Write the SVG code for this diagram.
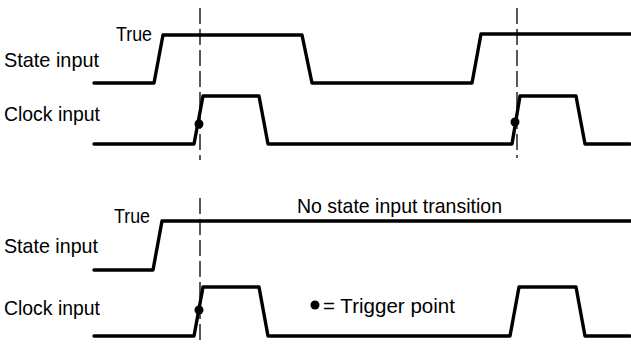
<svg xmlns="http://www.w3.org/2000/svg" width="631" height="345" viewBox="0 0 631 345">
<style>
.sig{fill:none;stroke:#000;stroke-width:3.4;stroke-linejoin:round;stroke-linecap:round}
.dash{fill:none;stroke:#000;stroke-width:1.3;stroke-dasharray:16 5}
.lbl{font-family:"Liberation Sans",Arial,sans-serif;font-size:21px;fill:#000}
.dot{fill:#000}
</style>
<rect width="631" height="345" fill="#fff"/>
<g id="labels">
<text class="lbl" x="116" y="41" textLength="36" lengthAdjust="spacingAndGlyphs">True</text>
<text class="lbl" x="4" y="67" textLength="95" lengthAdjust="spacingAndGlyphs">State input</text>
<text class="lbl" x="4" y="121" textLength="96" lengthAdjust="spacingAndGlyphs">Clock input</text>
<text class="lbl" x="114" y="223" textLength="36" lengthAdjust="spacingAndGlyphs">True</text>
<text class="lbl" x="4" y="253" textLength="94" lengthAdjust="spacingAndGlyphs">State input</text>
<text class="lbl" x="4" y="315" textLength="96" lengthAdjust="spacingAndGlyphs">Clock input</text>
<text class="lbl" x="297" y="213" textLength="205" lengthAdjust="spacingAndGlyphs">No state input transition</text>
</g>
<g id="legend">
<circle class="dot" cx="315" cy="305" r="4.5"/>
<text class="lbl" x="323" y="313" textLength="132" lengthAdjust="spacingAndGlyphs">= Trigger point</text>
</g>
<g id="connectors">
<line class="dash" x1="200" y1="8" x2="200" y2="160"/>
<line class="dash" x1="517" y1="8" x2="517" y2="158"/>
<line class="dash" x1="200" y1="198" x2="200" y2="345"/>
</g>
<g id="top-state">
<polyline class="sig" points="94,83 154,83 163,35 302,35 312,83 472,83 481,34 633,34"/>
</g>
<g id="top-clock">
<polyline class="sig" points="94,144 194,144 203,96 259,96 268,144 512,144 520,96 576,96 585,144 630,144"/>
<circle class="dot" cx="199" cy="124" r="4.5"/>
<circle class="dot" cx="515" cy="122" r="4.5"/>
</g>
<g id="bottom-state">
<polyline class="sig" points="94,270 153,270 162,221 633,221"/>
</g>
<g id="bottom-clock">
<polyline class="sig" points="94,336 194,336 203,287 259,287 268,336 510,336 519,287 576,287 585,336 630,336"/>
<circle class="dot" cx="199" cy="310" r="4.5"/>
</g>
</svg>
